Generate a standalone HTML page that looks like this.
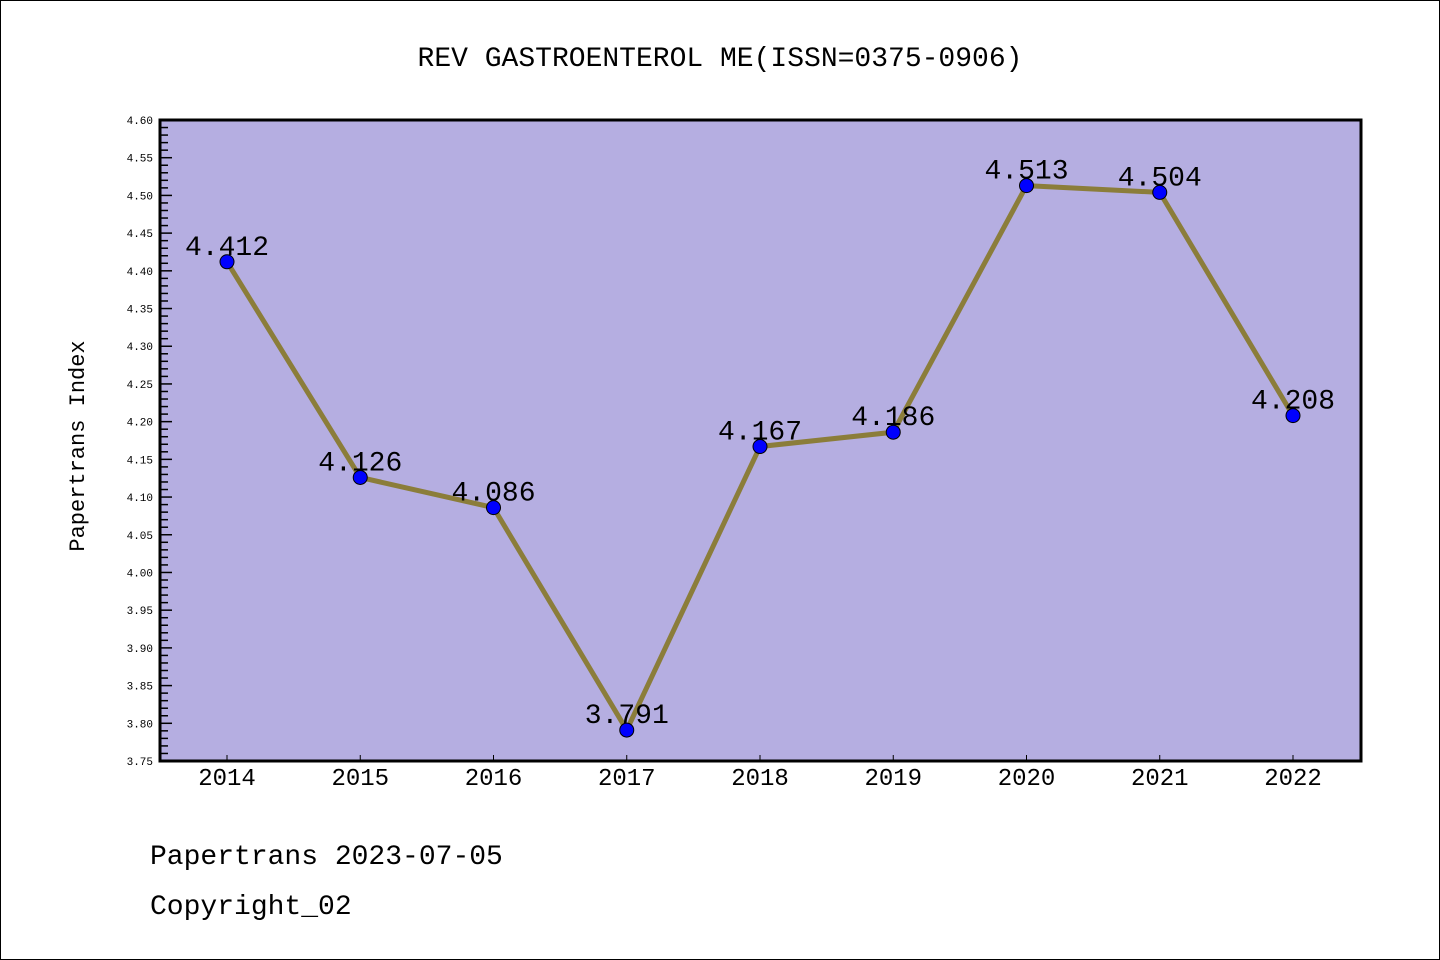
<!DOCTYPE html>
<html><head><meta charset="utf-8"><style>
html,body{margin:0;padding:0;background:#fff}
svg{display:block}
text{font-family:"Liberation Mono","DejaVu Sans Mono",monospace}
</style></head><body>
<svg id="c" width="1440" height="960" xmlns="http://www.w3.org/2000/svg">
<rect x="0.5" y="0.5" width="1439" height="959" fill="#fff" stroke="#000"/>
<text x="720" y="66" text-anchor="middle" font-size="28">REV GASTROENTEROL ME(ISSN=0375-0906)</text>
<rect x="160" y="120" width="1201" height="641" fill="#b5aee1"/>
<g id="yt"></g><g id="xt"></g>
<rect x="160" y="120" width="1201" height="641" fill="none" stroke="#000" stroke-width="3"/>
<g id="series"></g>
<text transform="translate(84,446) rotate(-90)" text-anchor="middle" font-size="22">Papertrans Index</text>
<text x="150" y="864" font-size="28">Papertrans 2023-07-05</text>
<text x="150" y="914" font-size="28">Copyright_02</text>
</svg>
<script>
const categories=["2014","2015","2016","2017","2018","2019","2020","2021","2022"];
const values=[4.412,4.126,4.086,3.791,4.167,4.186,4.513,4.504,4.208];
const valueLabels=["4.412","4.126","4.086","3.791","4.167","4.186","4.513","4.504","4.208"];
const yMin=3.75,yMax=4.60;
const NS="http://www.w3.org/2000/svg";
const L=160,R=1361,T=120,B=761;
function y(v){return B-(v-yMin)/(yMax-yMin)*(B-T);}
function x(i){return 227+i*(1293-227)/(categories.length-1);}
function mk(tag,attrs,parent){const e=document.createElementNS(NS,tag);for(const k in attrs)e.setAttribute(k,attrs[k]);parent.appendChild(e);return e;}
const yt=document.getElementById('yt'),xt=document.getElementById('xt'),s=document.getElementById('series');
for(let k=0;k<=85;k++){const v=yMin+k*0.01;const yy=y(v);const major=k%5===0;
 const t=mk('line',{x1:L,x2:L+(major?12:8),y1:yy,y2:yy,stroke:'#000','stroke-width':1.5},yt);
 
 
 if(major){const tx=mk('text',{x:153,y:yy+4,'text-anchor':'end','font-size':11,'font-family':'DejaVu Sans, sans-serif'},yt);tx.textContent=v.toFixed(2);
 
 }}
categories.forEach((c,i)=>{const t=mk('line',{x1:x(i),x2:x(i),y1:B,y2:B-6,stroke:'#000','stroke-width':1},xt);
 
 
 const tx=mk('text',{x:x(i),y:785,'text-anchor':'middle','font-size':24,'font-family':'DejaVu Sans, sans-serif'},xt);tx.textContent=c;
 
 });
const pl=mk('polyline',{points:values.map((v,i)=>x(i)+','+y(v)).join(' '),fill:'none',stroke:'#8b7d3a','stroke-width':5,'stroke-linejoin':'round'},s);


values.forEach((v,i)=>{const c=mk('circle',{cx:x(i),cy:y(v),r:7,fill:'#0000ff',stroke:'#000','stroke-width':1},s);
 
 
 const tx=mk('text',{x:x(i),y:y(v)-7,'text-anchor':'middle','font-size':28},s);tx.textContent=valueLabels[i];
 
 });
</script>
</body></html>
